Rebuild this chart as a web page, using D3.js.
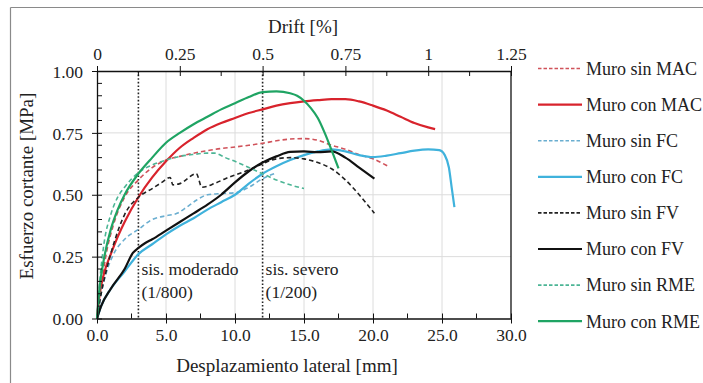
<!DOCTYPE html>
<html><head><meta charset="utf-8">
<script src="https://cdn.jsdelivr.net/npm/d3@7/dist/d3.min.js"></script>
<style>
html,body{margin:0;padding:0;background:#fff;}
svg{display:block;font-family:"Liberation Serif","Times New Roman",Times,serif;}
</style></head>
<body><svg id="chart" width="703" height="383"></svg>
<script>
// ---- data (displacement mm, shear stress MPa) ----
const sinMAC = [[0,0],[0.3,0.13],[0.7,0.27],[1.2,0.38],[2,0.49],[3,0.56],[4,0.61],[5,0.64],[6,0.655],[7,0.668],[8,0.678],[9,0.687],[10,0.693],[11,0.70],[12,0.708],[13,0.718],[14,0.725],[15,0.727],[16,0.72],[17,0.70],[18,0.684],[19,0.662],[20,0.645],[21.1,0.615]];
const conMAC = [[0,0],[0.2,0.1],[0.5,0.18],[1,0.26],[1.5,0.33],[2,0.39],[3,0.49],[4,0.57],[5,0.635],[6,0.69],[7,0.73],[8,0.765],[9,0.79],[10,0.81],[11,0.83],[12,0.845],[13,0.86],[14,0.87],[15,0.877],[16,0.882],[17,0.886],[18,0.886],[19,0.877],[20,0.86],[21,0.84],[22,0.815],[23,0.79],[24,0.772],[24.5,0.765]];
const sinFC = [[0,0],[0.3,0.1],[0.7,0.19],[1.2,0.26],[2,0.32],[3,0.36],[4,0.4],[5,0.415],[5.8,0.425],[6.5,0.45],[7.2,0.478],[8,0.5],[9,0.505],[10,0.508],[11,0.53],[12,0.565],[13,0.588]];
const conFC = [[0,0],[0.3,0.05],[1,0.12],[2,0.19],[3,0.26],[4,0.3],[5,0.34],[6,0.375],[7,0.405],[8,0.44],[9,0.47],[10,0.5],[11,0.545],[12,0.585],[13,0.615],[14,0.64],[15,0.66],[16,0.675],[17,0.683],[18,0.675],[19,0.66],[20,0.652],[21,0.658],[22,0.668],[23,0.678],[24,0.683],[24.8,0.68],[25.2,0.66],[25.5,0.61],[25.7,0.53],[25.9,0.45]];
const sinFV = [[0,0],[0.3,0.1],[0.7,0.2],[1.2,0.3],[2,0.42],[3,0.49],[4,0.525],[4.7,0.55],[5.3,0.57],[5.5,0.54],[6,0.545],[7.2,0.585],[7.6,0.53],[8.5,0.545],[9.3,0.565],[10,0.58],[11,0.6],[12,0.625],[13,0.645],[14,0.65],[15,0.645],[16,0.63],[17,0.605],[18,0.56],[19,0.5],[19.6,0.46],[20.1,0.425]];
const conFV = [[0,0],[0.3,0.05],[1,0.12],[2,0.2],[2.6,0.265],[3,0.285],[3.5,0.305],[4,0.32],[5,0.355],[6,0.39],[7,0.425],[8,0.46],[9,0.5],[10,0.55],[11,0.595],[12,0.63],[13,0.655],[14,0.673],[15,0.675],[16,0.672],[17,0.675],[18,0.65],[19,0.61],[20.1,0.565]];
const sinRME = [[0,0],[0.2,0.15],[0.5,0.3],[1,0.42],[1.5,0.49],[2,0.53],[3,0.59],[4,0.62],[5,0.64],[6,0.655],[7,0.663],[8,0.668],[8.5,0.668],[9.3,0.65],[10,0.635],[11,0.61],[12,0.585],[13,0.56],[14,0.54],[15,0.525]];
const conRME = [[0,0],[0.2,0.13],[0.5,0.24],[1,0.36],[1.5,0.44],[2,0.5],[3,0.585],[4,0.65],[5,0.71],[6,0.75],[7,0.785],[8,0.815],[9,0.845],[10,0.87],[11,0.895],[12,0.915],[13,0.918],[14,0.91],[14.5,0.9],[15,0.88],[15.5,0.85],[16,0.81],[16.5,0.75],[17,0.68],[17.5,0.607]];

const seriesNames = ["Muro sin MAC","Muro con MAC","Muro sin FC","Muro con FC","Muro sin FV","Muro con FV","Muro sin RME","Muro con RME"];
const seriesData = [sinMAC, conMAC, sinFC, conFC, sinFV, conFV, sinRME, conRME];
const seriesColors = ["#d0525a","#d8232c","#6aaed0","#3fb2dc","#222222","#111111","#4cb595","#1fa463"];
const seriesDashed = [true,false,true,false,true,false,true,false];

const xTicks = [0,5,10,15,20,25,30];
const yTicks = [0,0.25,0.5,0.75,1.0];
const driftTicks = [0,0.25,0.5,0.75,1,1.25];
const driftLabels = ["0","0.25","0.5","0.75","1","1.25"];
const refLines = [3,12];
const refLabels = [["sis. moderado","(1/800)"],["sis. severo","(1/200)"]];

// ---- layout ----
const svg = d3.select("#chart");
const L = 97, R = 511, T = 71, B = 318.5;
const x = d3.scaleLinear().domain([0,30]).range([L,R]);
const y = d3.scaleLinear().domain([0,1]).range([B,T]);
const xd = d3.scaleLinear().domain([0,1.25]).range([L,R]);

// outer frame (top & left)
svg.append("line").attr("x1",10.5).attr("x2",703).attr("y1",7.5).attr("y2",7.5).attr("stroke","#8a8a8a").attr("stroke-width",1.2);
svg.append("line").attr("x1",10.5).attr("x2",10.5).attr("y1",7.5).attr("y2",383).attr("stroke","#8a8a8a").attr("stroke-width",1.2);

// grid
const grid = svg.append("g").attr("stroke","#dcdcdc").attr("stroke-width",1);
xTicks.slice(1,-1).forEach(v=>grid.append("line").attr("x1",x(v)).attr("x2",x(v)).attr("y1",T).attr("y2",B));
yTicks.slice(1,-1).forEach(v=>grid.append("line").attr("x1",L).attr("x2",R).attr("y1",y(v)).attr("y2",y(v)));

// reference dotted lines
refLines.forEach((v,i)=>{
  svg.append("line").attr("x1",x(v)).attr("x2",x(v)).attr("y1",T).attr("y2",B)
    .attr("stroke","#222").attr("stroke-width",1.6).attr("stroke-dasharray","1.6,2");
  const t = svg.append("text").attr("x",x(v)+3).attr("font-size",17.5).attr("fill","#222");
  t.append("tspan").attr("x",x(v)+3).attr("y",275).text(refLabels[i][0]);
  t.append("tspan").attr("x",x(v)+3).attr("y",298).text(refLabels[i][1]);
});

// series
const line = d3.line().x(d=>x(d[0])).y(d=>y(d[1])).curve(d3.curveMonotoneX);
seriesData.forEach((data,i)=>{
  svg.append("path").datum(data).attr("d",line).attr("fill","none")
    .attr("stroke",seriesColors[i]).attr("stroke-width",seriesDashed[i]?1.6:2.2)
    .attr("stroke-dasharray",seriesDashed[i]?"4.5,3":null)
    .attr("stroke-linejoin","round");
});

// axes
const axisColor = "#111";
const gBottom = svg.append("g").attr("transform",`translate(0,${B})`)
  .call(d3.axisBottom(x).tickValues(xTicks).tickFormat(d3.format(".1f")).tickSize(5).tickSizeOuter(0));
gBottom.selectAll(".tick line").attr("y1",-5).attr("y2",5);
const xMinor = d3.range(2.5,30,5);
xMinor.forEach(v=>svg.append("line").attr("x1",x(v)).attr("x2",x(v)).attr("y1",B).attr("y2",B-5).attr("stroke",axisColor));

const gLeft = svg.append("g").attr("transform",`translate(${L},0)`)
  .call(d3.axisLeft(y).tickValues(yTicks).tickFormat(d3.format(".2f")).tickSize(5).tickSizeOuter(0));
gLeft.selectAll(".tick line").attr("x1",-5).attr("x2",5);
d3.range(0.05,1,0.05).forEach(v=>{ if (Math.abs(v*4-Math.round(v*4))>1e-6) svg.append("line").attr("x1",L).attr("x2",L+5).attr("y1",y(v)).attr("y2",y(v)).attr("stroke",axisColor); });

const gTop = svg.append("g").attr("transform",`translate(0,${T})`)
  .call(d3.axisTop(xd).tickValues(driftTicks).tickFormat((d,i)=>driftLabels[i]).tickSize(5).tickSizeOuter(0));
gTop.selectAll(".tick line").attr("y1",-5).attr("y2",5);
d3.range(0.125,1.25,0.25).forEach(v=>svg.append("line").attr("x1",xd(v)).attr("x2",xd(v)).attr("y1",T).attr("y2",T+5).attr("stroke",axisColor));

// right frame
svg.append("line").attr("x1",R).attr("x2",R).attr("y1",T).attr("y2",B).attr("stroke",axisColor).attr("stroke-width",1.3);

[gBottom,gLeft,gTop].forEach(g=>{
  g.attr("font-family",null);
  g.select(".domain").attr("stroke",axisColor).attr("stroke-width",1.3);
  g.selectAll(".tick line").attr("stroke",axisColor);
  g.selectAll("text").attr("font-size",17.5).attr("fill","#222");
});
gBottom.selectAll("text").attr("dy","0.85em");
gLeft.selectAll("text").attr("x",-14).attr("dy","0.35em");
gTop.selectAll("text").attr("dy","-0.2em");

// titles
svg.append("text").attr("x",287).attr("y",372).attr("text-anchor","middle").attr("font-size",19).attr("fill","#222").text("Desplazamiento lateral [mm]");
svg.append("text").attr("x",303).attr("y",33).attr("text-anchor","middle").attr("font-size",19).attr("fill","#222").text("Drift [%]");
svg.append("text").attr("transform","translate(33,186) rotate(-90)").attr("text-anchor","middle").attr("font-size",19).attr("fill","#222").text("Esfuerzo cortante [MPa]");

// legend
const lg = svg.append("g");
seriesNames.forEach((n,i)=>{
  const yy = 68.5 + i*36.1;
  lg.append("line").attr("x1",538).attr("x2",582).attr("y1",yy).attr("y2",yy)
    .attr("stroke",seriesColors[i]).attr("stroke-width",seriesDashed[i]?1.6:2.2)
    .attr("stroke-dasharray",seriesDashed[i]?"3.5,2":null);
  lg.append("text").attr("x",586).attr("y",yy).attr("dy","0.35em").attr("font-size",18).attr("fill","#222").text(n);
});
</script></body></html>
